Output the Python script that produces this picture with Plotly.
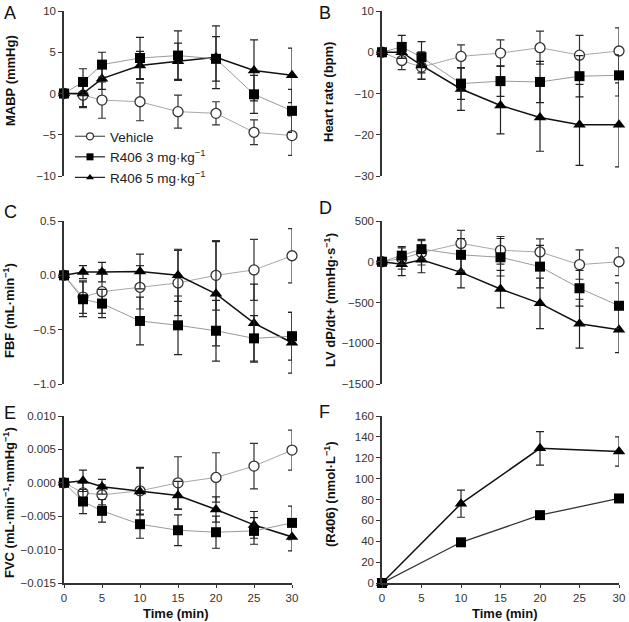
import plotly.graph_objects as go
from plotly.subplots import make_subplots

# ---------------- data ----------------
time = [0, 2.5, 5, 10, 15, 20, 25, 30]
time_f = [0, 10, 20, 30]

series_names = ["Vehicle", "R406 3 mg·kg<sup>−1</sup>", "R406 5 mg·kg<sup>−1</sup>"]

# A: MABP (mmHg)
mabp_veh = [0, -0.2, -0.8, -1.0, -2.2, -2.4, -4.7, -5.1]
mabp_veh_err = [0, 1.5, 2.2, 2.3, 2.0, 1.4, 1.5, 2.4]
mabp_r3 = [0, 1.4, 3.5, 4.3, 4.6, 4.2, -0.1, -2.1]
mabp_r3_err = [0, 1.6, 1.5, 2.5, 3.0, 2.7, 2.3, 2.6]
mabp_r5 = [0, 0.0, 1.8, 3.4, 3.9, 4.4, 2.8, 2.2]
mabp_r5_err = [0, 1.6, 1.3, 1.7, 2.2, 3.8, 3.7, 3.3]

# B: Heart rate (bpm)
hr_veh = [0, -2.0, -3.6, -1.0, -0.2, 1.1, -0.7, 0.3]
hr_veh_err = [0, 2.2, 3.0, 2.8, 3.2, 4.0, 4.8, 5.6]
hr_r3 = [0, 1.3, -1.2, -7.6, -7.0, -7.2, -5.8, -5.6]
hr_r3_err = [0, 2.8, 3.8, 3.8, 3.7, 5.0, 5.0, 5.0]
hr_r5 = [0, 0.0, -3.2, -8.9, -12.9, -15.8, -17.6, -17.6]
hr_r5_err = [0, 1.5, 3.3, 5.2, 6.9, 8.2, 9.8, 10.2]

# C: FBF (mL/min)
fbf_veh = [0, -0.2, -0.15, -0.11, -0.07, 0.0, 0.05, 0.18]
fbf_veh_err = [0, 0.15, 0.2, 0.2, 0.3, 0.32, 0.28, 0.25]
fbf_r3 = [0, -0.22, -0.26, -0.42, -0.46, -0.51, -0.58, -0.56]
fbf_r3_err = [0, 0.16, 0.13, 0.22, 0.27, 0.28, 0.21, 0.22]
fbf_r5 = [0, 0.03, 0.03, 0.035, 0.0, -0.17, -0.44, -0.62]
fbf_r5_err = [0, 0.06, 0.09, 0.16, 0.24, 0.48, 0.36, 0.28]

# D: LV dP/dt+ (mmHg/s)
lv_veh = [0, 40, 110, 225, 140, 120, -35, 0]
lv_veh_err = [0, 130, 150, 160, 170, 160, 180, 170]
lv_r3 = [0, 75, 155, 85, 55, -60, -325, -540]
lv_r3_err = [0, 110, 120, 200, 230, 260, 220, 280]
lv_r5 = [0, -30, 25, -130, -335, -510, -760, -835]
lv_r5_err = [0, 140, 160, 190, 230, 310, 300, 280]

# E: FVC
fvc_veh = [0, -0.0015, -0.0018, -0.0012, 0.0, 0.0008, 0.0025, 0.0049]
fvc_veh_err = [0, 0.0015, 0.0015, 0.0035, 0.0039, 0.0037, 0.0034, 0.003]
fvc_r3 = [0, -0.0028, -0.0042, -0.0062, -0.0071, -0.0074, -0.0072, -0.006]
fvc_r3_err = [0, 0.0018, 0.0017, 0.0021, 0.0023, 0.0024, 0.002, 0.0025]
fvc_r5 = [0, 0.0003, -0.0006, -0.0013, -0.0019, -0.004, -0.0063, -0.0081]
fvc_r5_err = [0, 0.0016, 0.0011, 0.0035, 0.0021, 0.0019, 0.002, 0.0021]

# F: plasma [R406] (nmol/L)
conc_r3 = [0, 39, 65, 81]
conc_r3_err = [0, 2, 3, 3]
conc_r5 = [0, 76, 129, 126]
conc_r5_err = [0, 13, 16, 14]

# ---------------- styles ----------------
FONT = "Liberation Sans, Arial, sans-serif"
style = {
    "veh": dict(line=dict(color="#a8a8a8", width=1),
                marker=dict(symbol="circle", size=10, color="white", line=dict(color="#333", width=1.3)),
                err="#333"),
    "r3": dict(line=dict(color="#9a9a9a", width=1),
               marker=dict(symbol="square", size=10, color="black", line=dict(color="black", width=0)),
               err="#222"),
    "r5": dict(line=dict(color="#111", width=1.5),
               marker=dict(symbol="triangle-up", size=11, color="black", line=dict(color="black", width=0)),
               err="#222"),
}

fig = make_subplots(rows=3, cols=2)


def add(row, col, x, y, err, key, line=None):
    s = style[key]
    fig.add_trace(go.Scatter(
        x=x, y=y, mode="lines+markers", line=line or s["line"], marker=s["marker"],
        error_y=dict(type="data", array=err, visible=True, color=s["err"], thickness=1.2, width=4),
        showlegend=False, cliponaxis=False), row=row, col=col)


panels = [
    (1, 1, [(mabp_veh, mabp_veh_err, "veh"), (mabp_r5, mabp_r5_err, "r5"), (mabp_r3, mabp_r3_err, "r3")]),
    (1, 2, [(hr_veh, hr_veh_err, "veh"), (hr_r5, hr_r5_err, "r5"), (hr_r3, hr_r3_err, "r3")]),
    (2, 1, [(fbf_veh, fbf_veh_err, "veh"), (fbf_r5, fbf_r5_err, "r5"), (fbf_r3, fbf_r3_err, "r3")]),
    (2, 2, [(lv_veh, lv_veh_err, "veh"), (lv_r5, lv_r5_err, "r5"), (lv_r3, lv_r3_err, "r3")]),
    (3, 1, [(fvc_veh, fvc_veh_err, "veh"), (fvc_r5, fvc_r5_err, "r5"), (fvc_r3, fvc_r3_err, "r3")]),
]
for r, c, lst in panels:
    for y, e, k in lst:
        add(r, c, time, y, e, k)
add(3, 2, time_f, conc_r5, conc_r5_err, "r5")
add(3, 2, time_f, conc_r3, conc_r3_err, "r3", line=dict(color="#333", width=1.3))

# legend entries (shown in panel A)
for name, key in zip(series_names, ["veh", "r3", "r5"]):
    s = style[key]
    m = dict(s["marker"])
    m["size"] = 7
    fig.add_trace(go.Scatter(x=[None], y=[None], mode="lines+markers", name=name,
                             line=dict(color="#222" if key != "veh" else "#555", width=1.2),
                             marker=m, showlegend=True), row=1, col=1)

W, H = 629, 622
xdom = {1: [64 / W, 292 / W], 2: [382 / W, 619 / W]}
ydom = {1: [1 - 176 / H, 1 - 11 / H], 2: [1 - 384 / H, 1 - 221 / H], 3: [1 - 583 / H, 1 - 416 / H]}

yranges = {(1, 1): ([-10, 10], 5, None), (1, 2): ([-30, 10], 10, None),
           (2, 1): ([-1.0, 0.5], 0.5, ".1f"), (2, 2): ([-1500, 500], 500, None),
           (3, 1): ([-0.015, 0.010], 0.005, ".3f"), (3, 2): ([0, 160], 20, None)}

tickfont = dict(family=FONT, size=11.5, color="#333")
for (r, c), (rng, dt, fmt) in yranges.items():
    bottom = (r == 3)
    fig.update_xaxes(row=r, col=c, domain=xdom[c], range=[0, 30], showgrid=False, zeroline=False,
                     showline=bottom, linecolor="#333", linewidth=1.5, automargin=False,
                     ticklabeloverflow="allow",
                     ticks="outside" if bottom else "", ticklen=3, tickwidth=1.2, tickcolor="#333",
                     showticklabels=bottom, tick0=0, dtick=5, tickfont=tickfont)
    fig.update_yaxes(row=r, col=c, domain=ydom[r], range=rng, showgrid=False, zeroline=False,
                     showline=True, linecolor="#333", linewidth=1.5, automargin=False,
                     ticklabeloverflow="allow",
                     ticks="outside", ticklen=4, tickwidth=1.2, tickcolor="#333",
                     tick0=rng[0], dtick=dt, tickformat=fmt, tickfont=tickfont)

ann = []
# panel letters
for txt, x, y in [("A", 2, 13), ("B", 317, 13), ("C", 2, 212), ("D", 317, 208), ("E", 2, 413), ("F", 317, 412)]:
    ann.append(dict(text=txt, x=x / W, y=1 - y / H, xref="paper", yref="paper", xanchor="left",
                    yanchor="middle", showarrow=False, font=dict(family=FONT, size=18, color="#111")))
# y titles
ytitles = [("MABP (mmHg)", 10, 81),
           ("Heart rate (bpm)", 329, 92),
           ("FBF (mL·min<sup>−1</sup>)", 9, 311),
           ("LV dP/dt+ (mmHg·s<sup>−1</sup>)", 330, 300),
           ("FVC (mL·min<sup>−1</sup>·mmHg<sup>−1</sup>)", 9, 503),
           ("(R406) (nmol·L<sup>−1</sup>)", 330, 494)]
for txt, x, y in ytitles:
    ann.append(dict(text="<b>" + txt + "</b>", x=x / W, y=1 - y / H, xref="paper", yref="paper",
                    xanchor="center", yanchor="middle", textangle=-90, showarrow=False,
                    font=dict(family=FONT, size=13, color="#111")))
for x in (176, 505):
    ann.append(dict(text="<b>Time (min)</b>", x=x / W, y=1 - 613 / H, xref="paper", yref="paper",
                    xanchor="center", yanchor="middle", showarrow=False,
                    font=dict(family=FONT, size=13, color="#111")))

fig.update_layout(
    width=W, height=H, margin=dict(l=0, r=0, t=0, b=0, autoexpand=False),
    paper_bgcolor="white", plot_bgcolor="white",
    font=dict(family=FONT, size=12, color="#222"),
    annotations=ann,
    legend=dict(x=70 / W, y=1 - 121 / H, xanchor="left", yanchor="top", bgcolor="rgba(0,0,0,0)",
                font=dict(family=FONT, size=13.5, color="#222"), tracegroupgap=0,
                itemwidth=30, borderwidth=0),
)

fig.write_html("out.html", config={"displayModeBar": False},
               post_script="document.body.style.margin='0';"
                           "document.documentElement.style.overflow='hidden';")
